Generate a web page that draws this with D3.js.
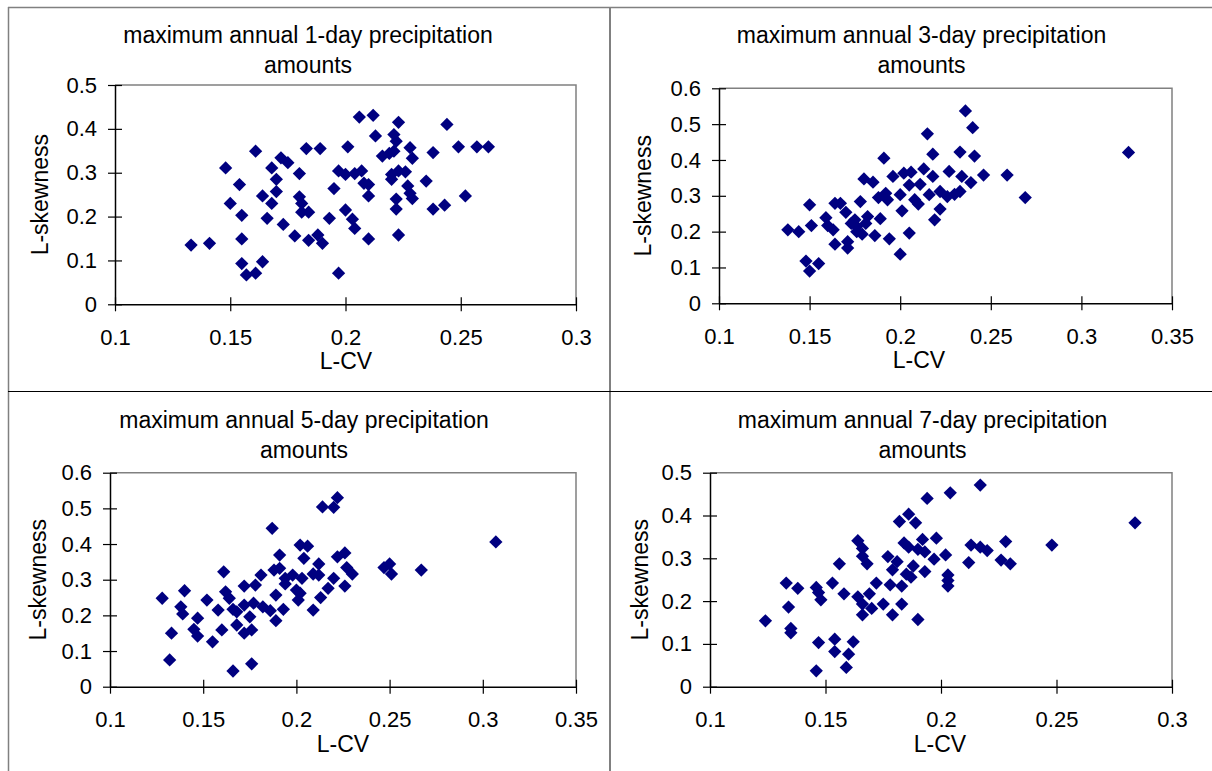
<!DOCTYPE html>
<html>
<head>
<meta charset="utf-8">
<script src="https://cdn.jsdelivr.net/npm/d3@7"></script>
<style>
  body { margin: 0; background: #fff; }
  svg { display: block; font-family: "Liberation Sans", Arial, sans-serif; }
</style>
</head>
<body>
<div id="chart"></div>
<script>

///////////////////////
// Data (L-CV, L-skewness)
///////////////////////

var day1Points = [
  [0.133,0.135],[0.141,0.139],[0.148,0.311],[0.150,0.230],[0.154,0.273],[0.155,0.203],[0.155,0.149],[0.155,0.093],
  [0.157,0.067],[0.161,0.071],[0.164,0.097],[0.161,0.349],[0.164,0.247],[0.166,0.196],[0.168,0.311],[0.168,0.230],
  [0.170,0.285],[0.170,0.257],[0.172,0.334],[0.175,0.323],[0.173,0.182],[0.178,0.156],[0.180,0.298],[0.180,0.245],
  [0.181,0.230],[0.181,0.210],[0.184,0.210],[0.183,0.355],[0.189,0.355],[0.184,0.146],[0.188,0.158],[0.190,0.139],
  [0.193,0.196],[0.195,0.264],[0.197,0.071],[0.197,0.304],[0.200,0.296],[0.200,0.215],[0.201,0.359],
  [0.206,0.427],[0.212,0.431],[0.223,0.415],[0.244,0.410],[0.213,0.384],[0.221,0.387],[0.222,0.372],[0.228,0.357],
  [0.238,0.346],[0.249,0.359],[0.257,0.359],[0.262,0.359],[0.216,0.338],[0.219,0.344],[0.221,0.349],[0.229,0.333],
  [0.204,0.298],[0.207,0.304],[0.220,0.296],[0.223,0.304],[0.226,0.302],[0.220,0.285],[0.235,0.281],[0.208,0.276],
  [0.210,0.273],[0.227,0.270],[0.210,0.247],[0.228,0.253],[0.229,0.241],[0.222,0.240],[0.252,0.247],[0.222,0.217],
  [0.238,0.217],[0.243,0.226],[0.203,0.194],[0.204,0.173],[0.210,0.149],[0.223,0.158]
];

var day3Points = [
  [0.138,0.205],[0.144,0.200],[0.150,0.275],[0.151,0.217],[0.148,0.118],[0.150,0.090],[0.155,0.111],[0.159,0.239],
  [0.160,0.217],[0.163,0.205],[0.164,0.165],[0.164,0.279],[0.167,0.279],[0.170,0.254],[0.171,0.172],[0.171,0.154],
  [0.173,0.223],[0.175,0.233],[0.176,0.214],[0.178,0.284],[0.179,0.193],[0.180,0.347],[0.181,0.223],[0.182,0.242],
  [0.185,0.338],[0.186,0.189],[0.188,0.295],[0.189,0.236],[0.191,0.405],[0.192,0.307],[0.193,0.289],[0.194,0.180],
  [0.196,0.354],[0.200,0.303],[0.200,0.137],[0.201,0.258],[0.202,0.363],[0.205,0.196],[0.205,0.330],[0.206,0.366],
  [0.208,0.289],[0.210,0.277],[0.211,0.332],[0.213,0.375],[0.215,0.473],[0.216,0.303],[0.218,0.416],[0.218,0.354],
  [0.219,0.233],[0.222,0.312],[0.222,0.263],[0.226,0.298],[0.227,0.368],[0.176,0.200],
  [0.236,0.537],[0.240,0.490],[0.233,0.422],[0.241,0.411],[0.326,0.421],[0.234,0.354],[0.239,0.337],[0.246,0.358],
  [0.259,0.358],[0.269,0.295],[0.230,0.304],[0.233,0.312]
];

var day5Points = [
  [0.128,0.248],[0.133,0.150],[0.132,0.075],[0.138,0.224],[0.139,0.204],[0.140,0.269],[0.147,0.192],[0.145,0.161],
  [0.147,0.142],[0.152,0.243],[0.155,0.126],[0.158,0.215],[0.160,0.159],[0.161,0.322],[0.162,0.266],[0.164,0.248],
  [0.166,0.217],[0.166,0.044],[0.168,0.210],[0.168,0.173],[0.172,0.282],[0.172,0.229],[0.172,0.150],[0.175,0.196],
  [0.176,0.159],[0.176,0.064],[0.177,0.234],[0.178,0.285],[0.181,0.313],[0.182,0.224],[0.186,0.213],[0.187,0.444],
  [0.188,0.327],[0.189,0.257],[0.189,0.185],[0.191,0.369],[0.191,0.332],[0.193,0.217],[0.194,0.304],[0.194,0.288],
  [0.198,0.313],[0.201,0.243],[0.200,0.271],[0.202,0.397],[0.203,0.304],[0.204,0.360],[0.206,0.394],[0.209,0.215],
  [0.212,0.344],[0.212,0.313],[0.213,0.250],[0.214,0.504],[0.217,0.276],[0.220,0.304],[0.220,0.503],[0.222,0.530],
  [0.222,0.364],[0.226,0.375],[0.226,0.282],[0.227,0.334],[0.209,0.316],[0.202,0.262],
  [0.307,0.406],[0.230,0.316],[0.247,0.334],[0.250,0.344],[0.251,0.316],[0.267,0.327]
];

var day7Points = [
  [0.124,0.154],[0.133,0.242],[0.134,0.186],[0.135,0.136],[0.135,0.126],[0.138,0.230],[0.146,0.232],[0.147,0.220],
  [0.148,0.203],[0.147,0.103],[0.146,0.037],[0.153,0.242],[0.154,0.111],[0.154,0.082],[0.156,0.287],[0.158,0.217],
  [0.159,0.045],[0.160,0.076],[0.162,0.105],[0.164,0.341],[0.166,0.323],[0.166,0.305],[0.168,0.287],[0.164,0.210],
  [0.166,0.193],[0.166,0.168],[0.169,0.217],[0.170,0.183],[0.172,0.242],[0.175,0.193],[0.177,0.304],[0.178,0.238],
  [0.179,0.273],[0.179,0.168],[0.182,0.386],[0.181,0.292],[0.183,0.235],[0.183,0.193],[0.184,0.336],[0.185,0.263],
  [0.186,0.403],[0.186,0.326],[0.187,0.256],[0.188,0.282],[0.189,0.383],[0.190,0.321],[0.190,0.157],[0.192,0.344],
  [0.193,0.315],[0.193,0.269],[0.194,0.440],[0.197,0.298],[0.198,0.347],[0.202,0.308],[0.203,0.261],[0.203,0.235],
  [0.204,0.453],
  [0.217,0.471],[0.284,0.383],[0.213,0.331],[0.217,0.326],[0.220,0.318],[0.228,0.339],[0.248,0.331],[0.212,0.290],
  [0.226,0.296],[0.230,0.287],[0.203,0.248]
];

var titles = ["maximum annual 1-day precipitation", "maximum annual 3-day precipitation",
              "maximum annual 5-day precipitation", "maximum annual 7-day precipitation"];
var xTicksShort = [0.1, 0.15, 0.2, 0.25, 0.3];
var xTicksLong = [0.1, 0.15, 0.2, 0.25, 0.3, 0.35];
var yTicksHalf = [0, 0.1, 0.2, 0.3, 0.4, 0.5];
var yTicksSix = [0, 0.1, 0.2, 0.3, 0.4, 0.5, 0.6];

///////////////////////
// Layout of the four panels
///////////////////////

var panels = [
  {pts: day1Points, title: titles[0], xt: xTicksShort, yt: yTicksHalf,
   l: 115, r: 576, t: 85, b: 304.3, cx: 308, ty: 42.7, ylx: 40, lcx: 346},
  {pts: day3Points, title: titles[1], xt: xTicksLong, yt: yTicksSix,
   l: 719, r: 1172, t: 88.3, b: 303.3, cx: 921.5, ty: 42.7, ylx: 643, lcx: 919},
  {pts: day5Points, title: titles[2], xt: xTicksLong, yt: yTicksSix,
   l: 110, r: 576, t: 472.7, b: 686.7, cx: 304, ty: 427.5, ylx: 38, lcx: 343},
  {pts: day7Points, title: titles[3], xt: xTicksShort, yt: yTicksHalf,
   l: 710, r: 1172, t: 472.7, b: 686.7, cx: 922.5, ty: 427.5, ylx: 640, lcx: 940}
];

var svg = d3.select("#chart").append("svg")
    .attr("width", 1212)
    .attr("height", 771);

// table frame
var frame = svg.append("g");
frame.append("line").attr("x1", 8).attr("x2", 1212).attr("y1", 7.5).attr("y2", 7.5)
    .attr("stroke", "#808080").attr("stroke-width", 1.5);
frame.append("line").attr("x1", 8.5).attr("x2", 8.5).attr("y1", 7).attr("y2", 771)
    .attr("stroke", "#808080").attr("stroke-width", 1.5);
frame.append("line").attr("x1", 610).attr("x2", 610).attr("y1", 7).attr("y2", 771)
    .attr("stroke", "#808080").attr("stroke-width", 2);
frame.append("line").attr("x1", 8).attr("x2", 1212).attr("y1", 391.5).attr("y2", 391.5)
    .attr("stroke", "#000").attr("stroke-width", 1);

function fmt(d) { return d === 0 ? "0" : String(+d.toFixed(2)); }

panels.forEach(function(p) {
  var xs = d3.max(p.xt), ys = d3.max(p.yt);
  var xScale = d3.scaleLinear().domain([0.1, xs]).range([p.l, p.r]);
  var yScale = d3.scaleLinear().domain([0, ys]).range([p.b, p.t]);

  var g = svg.append("g");

  // grey plot-area frame (top and right)
  g.append("path")
      .attr("d", "M" + p.l + "," + p.t + "H" + p.r + "V" + p.b)
      .attr("fill", "none").attr("stroke", "#808080").attr("stroke-width", 1.5);

  var xAxis = d3.axisBottom(xScale).tickValues(p.xt).tickFormat(fmt)
      .tickSizeInner(7).tickSizeOuter(0).tickPadding(18);
  var yAxis = d3.axisLeft(yScale).tickValues(p.yt).tickFormat(fmt)
      .tickSizeInner(7).tickSizeOuter(0).tickPadding(11);

  var gx = g.append("g").attr("transform", "translate(0," + p.b + ")").call(xAxis);
  var gy = g.append("g").attr("transform", "translate(" + p.l + ",0)").call(yAxis);

  [gx, gy].forEach(function(a) {
    a.attr("font-size", 22).attr("font-family", "Liberation Sans, Arial, sans-serif");
    a.select(".domain").attr("stroke", "#000").attr("stroke-width", 1.5);
    a.selectAll(".tick line").attr("stroke", "#000").attr("stroke-width", 1.2);
    a.selectAll(".tick text").attr("fill", "#000");
  });
  gx.selectAll(".tick line").attr("y1", -7);
  gy.selectAll(".tick line").attr("x1", 7);

  // diamonds
  g.append("g").selectAll("path").data(p.pts).enter()
      .append("path")
      .attr("d", d3.symbol().type(d3.symbolSquare).size(88))
      .attr("transform", function(d) {
        return "translate(" + xScale(d[0]) + "," + yScale(d[1]) + ") rotate(45)";
      })
      .attr("fill", "#000080");

  // titles and axis labels
  g.append("text").attr("x", p.cx).attr("y", p.ty).attr("text-anchor", "middle")
      .attr("font-size", 23).text(p.title);
  g.append("text").attr("x", p.cx).attr("y", p.ty + 30).attr("text-anchor", "middle")
      .attr("font-size", 23).text("amounts");
  g.append("text").attr("x", p.lcx).attr("y", p.b + 65).attr("text-anchor", "middle")
      .attr("font-size", 23).text("L-CV");
  g.append("text")
      .attr("transform", "translate(" + p.ylx + "," + (p.t + p.b) / 2 + ") rotate(-90)")
      .attr("text-anchor", "middle").attr("dy", "0.35em")
      .attr("font-size", 23).text("L-skewness");
});

</script>
</body>
</html>
